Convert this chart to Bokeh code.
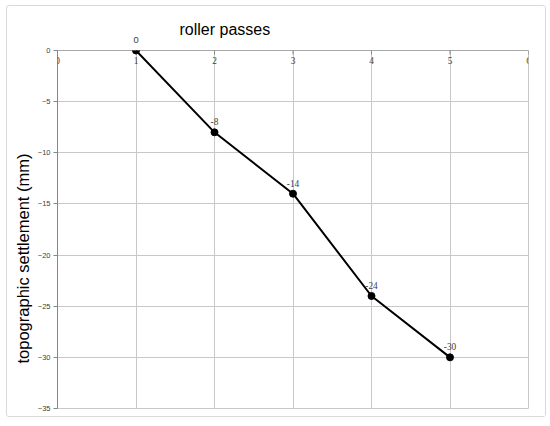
from bokeh.plotting import figure
from bokeh.models import Range1d, FixedTicker, ColumnDataSource, LabelSet, LinearAxis, Title
from bokeh.embed import file_html
from bokeh.resources import INLINE

passes = [1, 2, 3, 4, 5]
settlement = [0, -8, -14, -24, -30]
point_labels = ["0", "-8", "-14", "-24", "-30"]
x_ticks = [0, 1, 2, 3, 4, 5, 6]
x_tick_labels = ["0", "1", "2", "3", "4", "5", "6"]
y_ticks = [0, -5, -10, -15, -20, -25, -30, -35]

FONT = "Liberation Sans"

p = figure(width=540, height=412, output_backend="svg", toolbar_location=None,
           x_range=Range1d(0, 6), y_range=Range1d(-35, 0),
           min_border_left=50, min_border_right=19, min_border_top=44, min_border_bottom=10)
p.margin = (5, 0, 0, 6)
p.styles = {"border": "1px solid #d9d9d9", "border-radius": "3px"}
p.outline_line_color = "#c8c8c8"
p.background_fill_color = "white"
p.border_fill_color = "white"

# title
p.title.text = "roller passes"
p.title.align = "left"
p.title.offset = 122
p.title.text_font = FONT
p.title.text_font_size = "16px"
p.title.text_font_style = "normal"
p.title.text_color = "black"
p.title.standoff = -8
p.title.vertical_align = "bottom"

# grid
p.xgrid.ticker = FixedTicker(ticks=x_ticks)
p.ygrid.ticker = FixedTicker(ticks=y_ticks)
p.xgrid.grid_line_color = "#c8c8c8"
p.ygrid.grid_line_color = "#c8c8c8"
p.xaxis.visible = False

# label of the first data point (lies above the plot frame): carried by an axis above
top_axis = LinearAxis(ticker=FixedTicker(ticks=[passes[0]]),
                      major_label_overrides={passes[0]: point_labels[0]},
                      axis_line_color=None, major_tick_line_color=None,
                      major_tick_out=0, major_tick_in=0,
                      minor_tick_line_color=None, major_label_standoff=8,
                      major_label_text_font=FONT, major_label_text_font_size="7pt",
                      major_label_text_color="#404040")
p.add_layout(top_axis, "above")

# y axis
p.yaxis.ticker = FixedTicker(ticks=y_ticks)
p.yaxis.axis_line_color = "#868686"
p.yaxis.major_tick_line_color = "#868686"
p.yaxis.major_tick_out = 4
p.yaxis.major_tick_in = 0
p.yaxis.minor_tick_line_color = None
p.yaxis.major_label_text_font = FONT
p.yaxis.major_label_text_font_size = "7.5px"
p.yaxis.major_label_text_color = "#404040"
p.yaxis.major_label_standoff = 3

# y title, shifted toward the bottom as in the reference
p.add_layout(Title(text="topographic settlement (mm)", align="left", offset=45,
                   text_font=FONT, text_font_size="16.5px", text_font_style="normal",
                   text_color="black", standoff=5), "left")

# top x axis line at y=0 with ticks and labels inside
p.segment(x0=[0], y0=[0], x1=[6], y1=[0], line_color="#868686", line_width=1)
tick_src = ColumnDataSource(dict(x=x_ticks, y=[0] * len(x_ticks), t=x_tick_labels))
p.scatter("x", "y", source=tick_src, marker="dash", angle=1.5708, size=8,
          line_color="#868686", line_width=1)
p.add_layout(LabelSet(x="x", y="y", text="t", source=tick_src, text_font=FONT,
                      text_font_size="7pt", text_color="#404040", text_align="center",
                      text_baseline="top", y_offset=-6))

# data
src = ColumnDataSource(dict(x=passes, y=settlement, t=point_labels))
p.line("x", "y", source=src, line_color="black", line_width=2)
p.scatter("x", "y", source=src, size=7, fill_color="black", line_color="black")
p.add_layout(LabelSet(x="x", y="y", text="t", source=src, text_font=FONT,
                      text_font_size="7pt", text_color="#404040", text_align="center",
                      text_baseline="bottom", y_offset=7))

open("out.html", "w").write(file_html(p, INLINE))
